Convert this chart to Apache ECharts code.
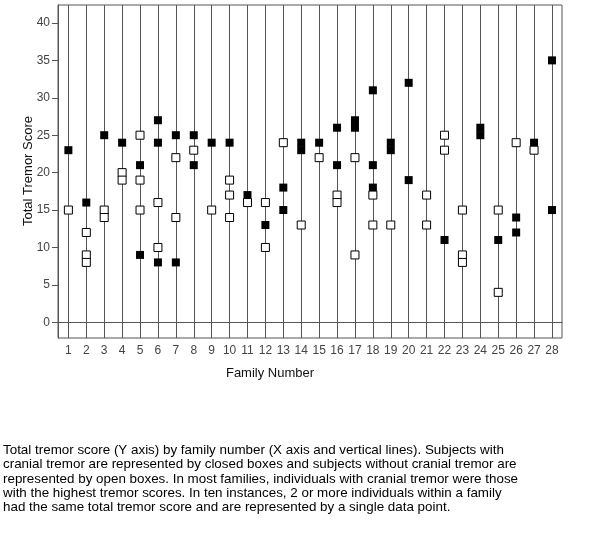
<!DOCTYPE html>
<html>
<head>
<meta charset="utf-8">
<script src="https://cdn.jsdelivr.net/npm/echarts@6/dist/echarts.min.js"></script>
<style>
html, body { margin: 0; padding: 0; background: #fff; }
#chart { width: 600px; height: 543px; }
</style>
</head>
<body>
<div id="chart"></div>
<script>
// family numbers (x) and tick labels
var families = [1, 2, 3, 4, 5, 6, 7, 8, 9, 10, 11, 12, 13, 14, 15, 16, 17, 18, 19, 20, 21, 22, 23, 24, 25, 26, 27, 28];
var yTicks = [0, 5, 10, 15, 20, 25, 30, 35, 40];

// scores per family, closed boxes = cranial tremor
var closedScores = [
	[23], [16], [25], [24], [21, 9], [27, 24, 8], [25, 8], [25, 21], [24], [24],
	[17], [13], [18, 15], [24, 23], [24], [26, 21], [27, 26], [31, 21, 18], [24, 23], [32, 19],
	[], [11], [], [26, 25], [11], [14, 12], [24], [35, 15]
];
// open boxes = no cranial tremor
var openScores = [
	[15], [12, 9, 8], [15, 14], [20, 19], [25, 19, 15], [16, 10], [22, 14], [23], [15], [19, 17, 14],
	[16], [16, 10], [24], [13], [22], [17, 16], [22, 9], [17, 13], [13], [],
	[17, 13], [25, 23], [15, 9, 8], [], [15, 4], [24], [23], []
];

var captionLines = [
	'Total tremor score (Y axis) by family number (X axis and vertical lines). Subjects with',
	'cranial tremor are represented by closed boxes and subjects without cranial tremor are',
	'represented by open boxes. In most families, individuals with cranial tremor were those',
	'with the highest tremor scores. In ten instances, 2 or more individuals within a family',
	'had the same total tremor score and are represented by a single data point.'
];

function toPoints(scores) {
	var pts = [];
	for (var i = 0; i < families.length; i++) {
		for (var j = 0; j < scores[i].length; j++) {
			pts.push([families[i], scores[i][j]]);
		}
	}
	return pts;
}

var gray = '#555';
var font = 'Liberation Sans, Arial, sans-serif';

var myChart = echarts.init(document.getElementById('chart'));
var option = {
	animation: false,
	backgroundColor: '#fff',
	grid: {
		left: 58,
		top: 5,
		width: 504,
		height: 333,
		show: true,
		borderColor: gray,
		borderWidth: 1
	},
	xAxis: {
		type: 'value',
		min: 0.42,
		max: 28.56,
		axisLine: { lineStyle: { color: gray } },
		axisTick: { length: 5, lineStyle: { color: gray }, customValues: families },
		axisLabel: { color: '#444', fontSize: 12, fontFamily: font, margin: 7, customValues: families },
		splitLine: { show: false }
	},
	yAxis: {
		type: 'value',
		min: -2.1,
		max: 42.4,
		axisLine: { show: true, lineStyle: { color: gray } },
		axisTick: { show: true, length: 6, lineStyle: { color: gray }, customValues: yTicks },
		axisLabel: { color: '#444', fontSize: 12, fontFamily: font, margin: 8, customValues: yTicks },
		splitLine: { show: false }
	},
	graphic: [
		{
			type: 'text',
			x: 28, y: 171,
			rotation: Math.PI / 2,
			style: { text: 'Total Tremor Score', fill: '#111', font: '13px ' + font, align: 'center', verticalAlign: 'middle' }
		},
		{
			type: 'text',
			x: 270, y: 373,
			style: { text: 'Family Number', fill: '#111', font: '13px ' + font, align: 'center', verticalAlign: 'middle' }
		},
		{
			type: 'text',
			x: 3, y: 443,
			style: { text: captionLines.join('\n'), fill: '#000', font: '13.4px ' + font, lineHeight: 14.4, verticalAlign: 'top' }
		}
	],
	series: [
		{
			name: 'lines',
			type: 'scatter',
			data: [],
			silent: true,
			z: 1,
			markLine: {
				silent: true,
				z: 1,
				symbol: ['none', 'none'],
				label: { show: false },
				lineStyle: { color: gray, width: 1, type: 'solid' },
				data: families.map(function (f) { return { xAxis: f }; })
			}
		},
		{
			name: 'closed',
			type: 'scatter',
			z: 5,
			symbol: 'rect',
			symbolSize: 8,
			itemStyle: { color: '#000', opacity: 1 },
			data: toPoints(closedScores)
		},
		{
			name: 'open',
			type: 'scatter',
			z: 6,
			symbol: 'rect',
			symbolSize: 8,
			itemStyle: { color: '#fff', borderColor: '#000', borderWidth: 1, opacity: 1 },
			data: toPoints(openScores)
		}
	]
};
myChart.setOption(option);
</script>
</body>
</html>
